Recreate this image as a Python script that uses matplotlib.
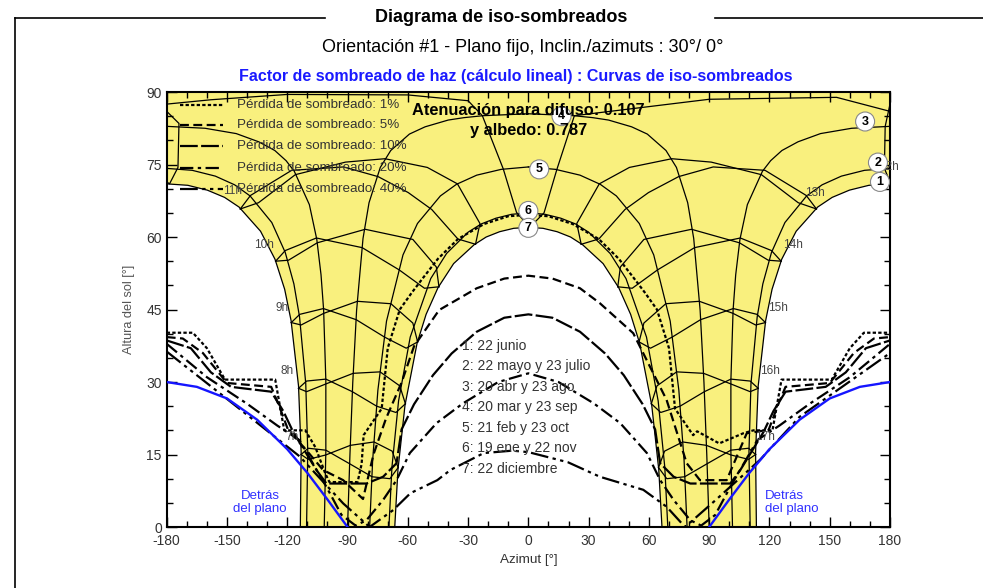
import matplotlib.pyplot as plt
from matplotlib.lines import Line2D
from matplotlib.ticker import MultipleLocator

plt.rcParams['font.family'] = ['Liberation Sans', 'DejaVu Sans']
plt.rcParams['axes.unicode_minus'] = False

# trayectorias solares, mitad de la manana (azimut, altura)
sun_1 = [(-113.5, 0), (-113.1, 15.5), (-114.4, 29.2), (-118.1, 42.7), (-121.3, 49.2), (-126.1, 55.4),
         (-133.3, 61.2), (-144.0, 66.2), (-151.2, 68.2), (-159.8, 69.7), (-169.5, 70.7), (-180, 71.0)]
sun_2 = [(-110.4, 0), (-109.8, 15.6), (-110.8, 29.7), (-113.9, 43.5), (-116.7, 50.3), (-121.0, 56.8),
         (-127.7, 63.0), (-138.5, 68.5), (-146.2, 70.8), (-155.8, 72.6), (-167.3, 73.8), (-180, 74.2)]
sun_3 = [(-101.6, 0), (-100.8, 15.6), (-100.8, 30.3), (-101.9, 44.9), (-103.2, 52.2), (-105.3, 59.5),
         (-109.0, 66.7), (-116.5, 73.6), (-120.6, 75.8), (-126.2, 77.9), (-134.2, 79.7), (-145.4, 81.4),
         (-160.9, 82.5), (-180, 82.9)]
sun_4 = [(-90, 0), (-88.8, 15.0), (-87.4, 29.9), (-85.5, 44.8), (-82.3, 59.7), (-79.3, 67.1),
         (-73.7, 74.4), (-68.5, 77.9), (-59.2, 81.3), (-51.4, 82.8), (-39.9, 84.2), (-32.0, 84.7),
         (-22.6, 85.1), (0, 85.5)]
sun_5 = [(-79.0, 0), (-77.5, 13.8), (-74.9, 28.3), (-70.6, 42.6), (-62.4, 56.3), (-55.2, 62.8),
         (-43.8, 68.5), (-35.8, 70.9), (-25.7, 72.8), (-13.5, 74.0), (0, 74.5)]
sun_6 = [(-69.4, 0), (-67.9, 12.4), (-64.6, 26.1), (-58.8, 39.3), (-48.6, 51.4), (-40.7, 56.6),
         (-30.0, 61.0), (-23.5, 62.7), (-16.1, 63.9), (-8.3, 64.7), (0, 65.0)]
sun_7 = [(-66.5, 0), (-64.9, 11.9), (-61.4, 25.2), (-55.4, 38.0), (-50.9, 44.0), (-45.0, 49.5),
         (-37.2, 54.5), (-27.0, 58.4), (-21.0, 60.0), (-14.3, 61.1), (-7.3, 61.8), (0, 62.0)]

# lineas horarias de la manana (dos ramas de la analema)
h7_a = [(-113.1, 15.0), (-109.6, 16.3), (-100.8, 15.9), (-89.0, 13.1), (-77.8, 10.4), (-68.9, 10.0), (-64.8, 12.3)]
h7_b = [(-113.1, 15.0), (-109.6, 14.0), (-100.9, 14.9), (-88.6, 16.9), (-76.8, 17.6), (-67.8, 15.7), (-64.8, 12.3)]
h8_a = [(-114.4, 28.7), (-110.4, 30.2), (-100.8, 30.6), (-87.6, 28.0), (-75.5, 25.0), (-65.9, 23.7), (-61.2, 25.5)]
h8_b = [(-114.4, 28.7), (-110.4, 28.0), (-100.8, 29.6), (-87.2, 31.8), (-73.8, 32.1), (-64.0, 29.2), (-61.2, 25.5)]
h9_a = [(-118.0, 42.3), (-113.8, 44.0), (-102.0, 45.2), (-85.7, 42.9), (-71.6, 39.3), (-60.8, 37.0), (-55.1, 38.3)]
h9_b = [(-118.0, 42.3), (-113.1, 41.8), (-101.9, 44.2), (-85.1, 46.7), (-68.4, 46.2), (-57.5, 42.2), (-55.1, 38.3)]
h10_a = [(-125.8, 55.0), (-121.0, 57.2), (-105.5, 59.8), (-82.7, 57.8), (-64.3, 53.2), (-51.7, 49.4), (-44.5, 49.7)]
h10_b = [(-125.8, 55.0), (-119.4, 55.2), (-105.1, 58.8), (-81.2, 61.6), (-57.5, 59.5), (-45.8, 53.8), (-44.5, 49.7)]
h11_a = [(-143.4, 65.8), (-138.3, 68.6), (-117.8, 73.8), (-92.0, 74.5), (-74.8, 72.5), (-59.8, 69.2),
         (-48.1, 65.7), (-35.1, 59.6), (-26.3, 58.5)]
h11_b = [(-143.4, 65.8), (-134.3, 67.1), (-116.0, 72.9), (-91.0, 75.5), (-71.4, 76.2), (-50.3, 74.4),
         (-35.3, 71.0), (-24.1, 62.8), (-26.3, 58.5)]
h12_a = [(0.7, 62.0), (-5.9, 65.1), (-12.5, 74.1), (-22.9, 85.1), (-30.0, 88.2), (-60.0, 89.4),
         (-120.0, 89.5), (-158.0, 88.4), (-180, 87.5)]
h12_a_n = [(180, 87.5), (177.6, 82.9), (177.2, 74.2), (180, 71.4)]
h12_b_n = [(-180, 71.4), (-178.6, 71.0), (-174.4, 74.4), (-173.9, 83.5), (-180, 86.0)]
h12_b = [(180, 86.0), (153.4, 88.9), (90.0, 88.5), (22.9, 85.1), (14.2, 74.0), (7.8, 65.0), (0.7, 62.0)]

# curvas de iso-sombreado
iso_01 = [(-180, 40.2), (-167, 40.2), (-160, 37), (-151, 30.5), (-126, 30.5), (-121.5, 20), (-111, 20),
          (-106, 16.5), (-101, 11), (-99, 9.3), (-85, 9.3), (-83, 13), (-82, 19), (-73, 24.5), (-70, 37),
          (-64, 45), (-58, 48.5), (-52.5, 51.5), (-45, 55.5), (-35, 59.6), (-22, 62.7), (-10, 64.3), (0, 64.6),
          (10, 64.3), (22, 62.7), (35, 59.6), (45, 55.5), (52.5, 51.5), (58, 48.5), (64, 45), (70, 37),
          (73, 24.5), (82, 19), (84, 19.8), (95, 17.3), (107, 19.4), (112, 20), (121.5, 20), (126, 30.5),
          (151, 30.5), (160, 37), (167, 40.2), (180, 40.2)]
iso_05 = [(-180, 39.3), (-172, 39), (-162, 36), (-150, 29.8), (-128, 29), (-124, 25), (-119.6, 20.1),
          (-110.5, 15.9), (-102.2, 11.8), (-92.2, 9.7), (-82.3, 5.8), (-77.1, 15), (-70.9, 22.4),
          (-63.1, 29.9), (-56.9, 37.4), (-44.4, 44.9), (-25.7, 49.4), (-12, 51.4), (0, 52),
          (12, 51.4), (25.7, 49.4), (35.6, 46.3), (52.2, 40.1), (68.8, 26.3), (78.8, 13.2), (85.4, 9.7),
          (98.7, 9.7), (108.7, 19.4), (119.6, 20.1), (124, 25), (128, 29), (150, 29.8), (162, 36),
          (172, 39), (180, 39.3)]
iso_10 = [(-180, 38.6), (-168, 37), (-158, 32), (-148, 29), (-128, 28), (-122, 24), (-117.1, 19.7),
          (-105.5, 11.8), (-100.5, 9), (-80.6, 9), (-72.3, 10.4), (-65.6, 13.2), (-63.1, 20.2),
          (-56.9, 25.4), (-47.5, 31.4), (-38.2, 35.9), (-25.7, 40.4), (-12, 43.3), (0, 44),
          (12, 43.3), (25.7, 40.4), (38.2, 35.9), (47.5, 31.4), (56.9, 25.4), (63.1, 20.2), (65.6, 13.2),
          (72.3, 10.4), (80.6, 9), (100.5, 9), (105.5, 11.8), (117.1, 19.7), (122, 24), (128, 28),
          (148, 29), (158, 32), (168, 37), (180, 38.6)]
iso_20 = [(-180, 37.9), (-160, 31), (-140, 25.5), (-125, 21), (-114, 18), (-100.5, 8.3), (-93, 2.5),
          (-86, 0.3), (-80.6, 1.4), (-72.3, 5.6), (-65.6, 9.7), (-59, 15.3), (-45.7, 21.5), (-32.5, 25.6),
          (-15, 30), (0, 31.8), (15, 30), (32.5, 25.6), (45.7, 21.5), (59, 15.3), (65.6, 9.7), (72.3, 5.6),
          (80.6, 1.4), (86, 0.3), (93, 2.5), (100.5, 8.3), (114, 18), (125, 21), (140, 25.5), (160, 31),
          (180, 37.9)]
iso_40 = [(-180, 36.3), (-150, 26.5), (-113.8, 14.6), (-92.2, 4.9), (-79, 0), (-67.3, 3.5), (-58.7, 7),
          (-45.3, 9.7), (-38.8, 11.8), (-22.2, 15.3), (-8, 15.8), (0, 15.5), (19.7, 13.4), (35.6, 10.4),
          (57.2, 7.7), (68.8, 4.2), (78, 0), (93, 5.5), (115.3, 13.9), (135, 22.8), (150, 27.2), (180, 36)]

# limite "detras del plano"
behind = [(-180, 30), (-165, 29), (-150, 26.6), (-135, 22.2), (-120, 16.1), (-110, 11.2), (-100, 5.7), (-90, 0)]

date_labels = ['1: 22 junio', '2: 22 mayo y 23 julio', '3: 20 abr y 23 ago', '4: 20 mar y 23 sep',
               '5: 21 feb y 23 oct', '6: 19 ene y 22 nov', '7: 22 diciembre']
iso_labels = ['Pérdida de sombreado: 1%', 'Pérdida de sombreado: 5%', 'Pérdida de sombreado: 10%',
              'Pérdida de sombreado: 20%', 'Pérdida de sombreado: 40%']
hours_am = ['7h', '8h', '9h', '10h', '11h']
hours_pm = ['17h', '16h', '15h', '14h', '13h']


def xy(path):
    return [p[0] for p in path], [p[1] for p in path]


def mirror(path):
    return [(-a, h) for a, h in path[::-1]]


fig = plt.figure(figsize=(9.83, 5.88), dpi=100)
ax = fig.add_axes([0.1696, 0.1037, 0.7358, 0.7398])
ax.set_xlim(-180, 180)
ax.set_ylim(0, 90)

# zona amarilla
zone = sun_1 + [(-180, 90), (180, 90)] + mirror(sun_1) + [(-a, h) for a, h in sun_7] + sun_7[::-1]
zx, zy = xy(zone)
ax.fill(zx, zy, color='#f9f07e', lw=0, zorder=0)

thin = dict(color='black', lw=0.9, zorder=2)
suns = [sun_1, sun_2, sun_3, sun_4, sun_5, sun_6, sun_7]
for s in suns:
    ax.plot(*xy(s), **thin)
    ax.plot(*xy(mirror(s)), **thin)

for h in [h7_a, h7_b, h8_a, h8_b, h9_a, h9_b, h10_a, h10_b, h11_a, h11_b]:
    ax.plot(*xy(h), **thin)
    ax.plot(*xy(mirror(h)), **thin)
for h in [h12_a, h12_a_n, h12_b_n, h12_b]:
    ax.plot(*xy(h), **thin)

styles = [(0, (1.5, 1)), (0, (4, 2)), (0, (8, 1.5)), (0, (6, 2, 1.5, 2)), (0, (8, 2, 1.5, 2, 1.5, 2))]
isos = [iso_01, iso_05, iso_10, iso_20, iso_40]
for c, ls in zip(isos, styles):
    ax.plot(*xy(c), color='black', lw=1.6, ls=ls, zorder=3)

ax.plot(*xy(behind), color='#1515ff', lw=1.7, zorder=3)
ax.plot(*xy(mirror(behind)), color='#1515ff', lw=1.7, zorder=3)

# leyenda de iso-sombreados
leg_y = [87.4, 83.2, 78.8, 74.3, 70.0]
for y, ls, lab in zip(leg_y, styles, iso_labels):
    ax.plot([-173.5, -152], [y, y], color='black', lw=1.6, ls=ls, zorder=4)
    ax.text(-145, y, lab, fontsize=9.6, color='#333333', va='center', zorder=4)

ax.text(0, 86.1, 'Atenuación para difuso: 0.107', fontsize=11.8, fontweight='bold', ha='center',
        va='center', zorder=5)
ax.text(0, 82.0, 'y albedo: 0.787', fontsize=11.8, fontweight='bold', ha='center', va='center', zorder=5)

for i, lab in enumerate(date_labels):
    ax.text(-33, 37.5 - i * 4.25, lab, fontsize=10, color='#333333', va='center', zorder=4)

am_pos = [(-117.7, 18.7), (-119.9, 32.2), (-122.4, 45.3), (-131.7, 58.3), (-147.3, 69.6)]
pm_pos = [(117.7, 18.7), (120.2, 32.2), (124.0, 45.3), (131.7, 58.3), (142.6, 69.2)]
for lab, (a, h) in zip(hours_am, am_pos):
    ax.text(a, h, lab, fontsize=8.5, color='#444444', ha='center', va='center', zorder=4)
for lab, (a, h) in zip(hours_pm, pm_pos):
    ax.text(a, h, lab, fontsize=8.5, color='#444444', ha='center', va='center', zorder=4)
ax.text(179.5, 74.5, '12h', fontsize=8.5, color='#444444', ha='center', va='center', zorder=4, clip_on=False)

circ = [(175, 71.4), (174, 75.4), (167.6, 83.9), (16.5, 85.0), (5.4, 74.0), (0, 65.4), (0, 61.9)]
for i, (a, h) in enumerate(circ):
    ax.text(a, h, str(i + 1), fontsize=9, fontweight='bold', ha='center', va='center',
            zorder=4.5 if i == 3 else 6,
            bbox=dict(boxstyle='circle,pad=0.28', fc='white', ec='#888888', lw=0.8))

ax.text(-133.5, 5, 'Detrás\ndel plano', fontsize=9.5, color='#3030ff', ha='center', va='center',
        linespacing=1.1, zorder=4)
ax.text(117.8, 5, 'Detrás\ndel plano', fontsize=9.5, color='#3030ff', ha='left', va='center',
        linespacing=1.1, zorder=4)

ax.set_xticks(range(-180, 181, 30))
ax.set_yticks(range(0, 91, 15))
ax.xaxis.set_minor_locator(MultipleLocator(10))
ax.yaxis.set_minor_locator(MultipleLocator(5))
ax.tick_params(which='both', direction='in', top=True, right=True, width=1.0, colors='black',
               labelsize=10, labelcolor='#333333')
ax.tick_params(which='major', length=7)
ax.tick_params(which='minor', length=4)
ax.tick_params(axis='x', pad=5)
for sp in ax.spines.values():
    sp.set_linewidth(1.5)
ax.set_xlabel('Azimut [°]', fontsize=9.7, color='#333333', labelpad=4)
ax.set_ylabel('Altura del sol [°]', fontsize=9.2, color='#555555', labelpad=8)

# marco y titulos
top = 1 - 18 / 588
fig.add_artist(Line2D([15 / 983, 325 / 983], [top, top], color='black', lw=1.2))
fig.add_artist(Line2D([715 / 983, 1.0], [top, top], color='black', lw=1.2))
fig.add_artist(Line2D([15 / 983, 15 / 983], [top, 0], color='black', lw=1.2))
fig.text(501 / 983, top, 'Diagrama de iso-sombreados', fontsize=13, fontweight='bold', ha='center', va='center')
fig.text(523 / 983, 1 - 48 / 588, 'Orientación #1 - Plano fijo, Inclin./azimuts : 30°/ 0°', fontsize=13,
         ha='center', va='center')
fig.text(516 / 983, 1 - 77 / 588, 'Factor de sombreado de haz (cálculo lineal) : Curvas de iso-sombreados',
         fontsize=11.5, fontweight='bold', color='#1a1aff', ha='center', va='center')

fig.savefig('out.png', dpi=100)
